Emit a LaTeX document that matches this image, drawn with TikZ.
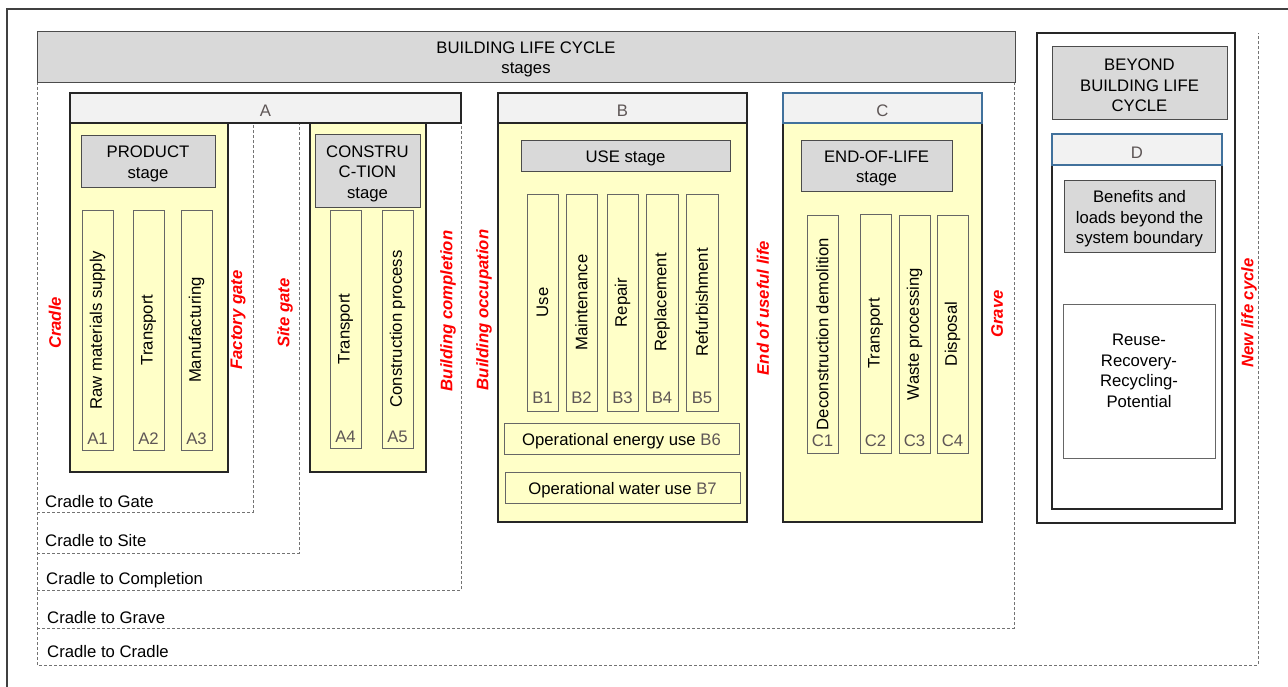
\documentclass[tikz,border=0pt]{standalone}
\usepackage{fontspec}
\setmainfont{Liberation Sans}
\usetikzlibrary{fit}
\definecolor{paleyellow}{HTML}{FFFFC8}
\definecolor{boxgray}{HTML}{D9D9D9}
\definecolor{hdrgray}{HTML}{F2F2F2}
\definecolor{codegray}{HTML}{5E5656}
\definecolor{edgeblue}{HTML}{41719C}
\definecolor{lifered}{HTML}{FF0000}
\begin{document}
\begin{tikzpicture}[x=1pt,y=-1pt,
  every node/.style={font=\fontsize{16.7}{20.5}\selectfont, inner sep=0pt},
  stagebox/.style={draw=black!85, fill=paleyellow, line width=1.1pt},
  hdrbox/.style={draw=black!85, fill=hdrgray, line width=1.1pt},
  titlebox/.style={draw=black!70, fill=boxgray, line width=1pt},
  plainbox/.style={draw=black!85, fill=white, line width=1.1pt},
  modbox/.style={draw=black!60, fill=paleyellow, line width=0.9pt},
  boxtext/.style={align=center, yshift=-3pt},
  hdrtext/.style={text=codegray, yshift=-3pt},
  vlabel/.style={rotate=90},
  modcode/.style={text=codegray, anchor=base},
  milestone/.style={rotate=90, text=lifered, font=\fontsize{16.7}{20}\selectfont\bfseries\itshape},
  scopeline/.style={draw=black!55, line width=0.8pt, dash pattern=on 3pt off 2pt},
  scopetext/.style={anchor=west},
]
\useasboundingbox (0,0) rectangle (1288,686);
\fill[white] (0,0) rectangle (1288,686);

% outer frame
\draw[black!75, line width=1.3pt] (7,9) rectangle (1300,700);

% system boundary scopes (dashed)
\draw[scopeline] (37,82) -- (37,665) -- (1258,665) -- (1258,33);
\draw[scopeline] (37,512) -- (253,512) -- (253,123);
\draw[scopeline] (37,553) -- (299,553) -- (299,123);
\draw[scopeline] (37,590) -- (461,590) -- (461,123);
\draw[scopeline] (37,628) -- (1014,628) -- (1014,82);

\node[scopetext] (sGate) at (45,502) {Cradle to Gate};
\node[scopetext] (sSite) at (45,541) {Cradle to Site};
\node[scopetext] (sComp) at (46,580) {Cradle to Completion};
\node[scopetext] (sGrave) at (47,618) {Cradle to Grave};
\node[scopetext] (sCradle) at (47,652) {Cradle to Cradle};

% building life cycle title
\node[titlebox, fit={(37,31)(1015,82)}] (life) {};
\node[boxtext] at (life.center) {BUILDING LIFE CYCLE\\stages};

% ---- A: product and construction
\node[stagebox, fit={(70,123)(228,472)}] (prod) {};
\node[stagebox, fit={(310,123)(426,472)}] (cons) {};
\node[hdrbox, fit={(70,93)(461,123)}] (A) {};
\node[hdrtext] at (A.center) {A};
\node[titlebox, fit={(81,135)(215,187)}] (prodT) {};
\node[boxtext] at (prodT.center) {PRODUCT\\stage};
\node[titlebox, fit={(315,134)(420,207)}] (consT) {};
\node[boxtext] at (consT.center) {CONSTRU\\C-TION\\stage};

\node[modbox, fit={(82,210)(113,450)}] (A1) {};
\node[modbox, fit={(133,210)(164,450)}] (A2) {};
\node[modbox, fit={(181,210)(212,450)}] (A3) {};
\node[modbox, fit={(330,210)(361,448)}] (A4) {};
\node[modbox, fit={(382,210)(413,448)}] (A5) {};
\node[vlabel] at (A1.center) {Raw materials supply};
\node[vlabel] at (A2.center) {Transport};
\node[vlabel] at (A3.center) {Manufacturing};
\node[vlabel] at (A4.center) {Transport};
\node[vlabel] at (A5.center) {Construction process};
\foreach \m in {A1,A2,A3,A4,A5}
  \node[modcode] at ([yshift=6pt]\m.south) {\m};

% ---- B: use stage
\node[stagebox, fit={(498,123)(747,522)}] (use) {};
\node[hdrbox, fit={(498,93)(747,123)}] (B) {};
\node[hdrtext] at (B.center) {B};
\node[titlebox, fit={(521,140)(730,171)}] (useT) {};
\node[boxtext] at (useT.center) {USE stage};
\node[modbox, fit={(527,194)(558,411)}] (B1) {};
\node[modbox, fit={(566,194)(597,411)}] (B2) {};
\node[modbox, fit={(607,194)(638,411)}] (B3) {};
\node[modbox, fit={(646,194)(678,411)}] (B4) {};
\node[modbox, fit={(686,194)(718,411)}] (B5) {};
\node[vlabel] at (B1.center) {Use};
\node[vlabel] at (B2.center) {Maintenance};
\node[vlabel] at (B3.center) {Repair};
\node[vlabel] at (B4.center) {Replacement};
\node[vlabel] at (B5.center) {Refurbishment};
\foreach \m in {B1,B2,B3,B4,B5}
  \node[modcode] at ([yshift=8pt]\m.south) {\m};
\node[modbox, fit={(504,423)(739,454)}] (B6) {};
\node[boxtext] at (B6.center) {Operational energy use \textcolor{codegray}{B6}};
\node[modbox, fit={(505,472)(740,503)}] (B7) {};
\node[boxtext] at (B7.center) {Operational water use \textcolor{codegray}{B7}};

% ---- C: end of life
\node[stagebox, fit={(783,123)(982,522)}] (eol) {};
\node[hdrbox, draw=edgeblue, fit={(783,93)(982,123)}] (C) {};
\node[hdrtext] at (C.center) {C};
\node[titlebox, fit={(801,140)(952,191)}] (eolT) {};
\node[boxtext] at (eolT.center) {END-OF-LIFE\\stage};
\node[modbox, fit={(807,215)(838,453)}] (C1) {};
\node[modbox, fit={(860,214)(891,453)}] (C2) {};
\node[modbox, fit={(899,215)(930,453)}] (C3) {};
\node[modbox, fit={(937,215)(968,453)}] (C4) {};
\node[vlabel] at (C1.center) {Deconstruction demolition};
\node[vlabel] at (C2.center) {Transport};
\node[vlabel] at (C3.center) {Waste processing};
\node[vlabel] at (C4.center) {Disposal};
\foreach \m in {C1,C2,C3,C4}
  \node[modcode] at ([yshift=7pt]\m.south) {\m};

% ---- D: beyond the building life cycle
\node[plainbox, fit={(1037,33)(1235,523)}] (beyond) {};
\node[titlebox, fit={(1052,46)(1227,119)}] (beyondT) {};
\node[boxtext] at (beyondT.center) {BEYOND\\BUILDING LIFE\\CYCLE};
\node[plainbox, fit={(1052,165)(1222,509)}] (dbody) {};
\node[hdrbox, draw=edgeblue, fit={(1052,134)(1222,165)}] (D) {};
\node[hdrtext] at (D.center) {D};
\node[titlebox, fit={(1064,180)(1215,252)}] (benefit) {};
\node[boxtext] at (benefit.center) {Benefits and\\loads beyond the\\system boundary};
\node[draw=black!60, fill=white, line width=0.9pt, fit={(1063,304)(1215,458)}] (reuse) {};
\node[boxtext] at ([yshift=13pt]reuse.center) {Reuse-\\Recovery-\\Recycling-\\Potential};

% ---- milestones
\node[milestone] (mCradle) at (55,323) {Cradle};
\node[milestone] (mFactory) at (238,320) {Factory gate};
\node[milestone] (mSite) at (285,313) {Site gate};
\node[milestone] (mComp) at (448,311) {Building completion};
\node[milestone] (mOcc) at (484,310) {Building occupation};
\node[milestone] (mEnd) at (763,308) {End of useful life};
\node[milestone] (mGrave) at (997,314) {Grave};
\node[milestone] (mNew) at (1249,313) {New life cycle};
\end{tikzpicture}
\end{document}
